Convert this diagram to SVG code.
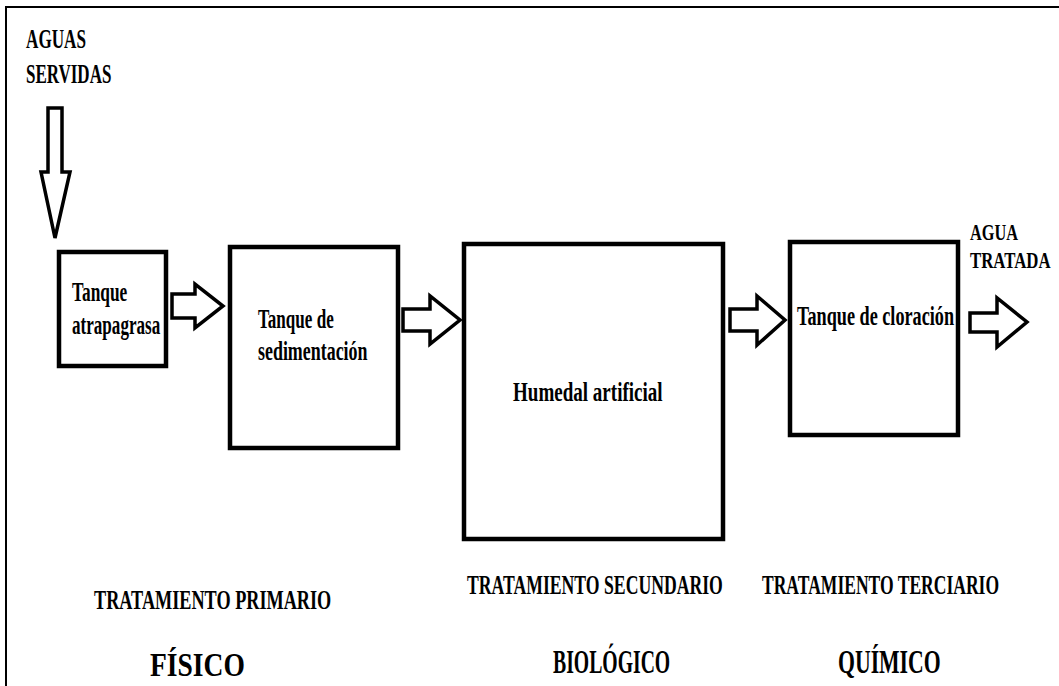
<svg xmlns="http://www.w3.org/2000/svg" width="1059" height="686" viewBox="0 0 1059 686">
<style>
.box{fill:#fff;stroke:#000;stroke-width:4.5}
.arr{fill:#fff;stroke:#000;stroke-width:3.5;stroke-linejoin:miter}
.t{font-size:28px}
.l{font-size:27px}
.o{font-size:24px}
.b{font-size:34px}
</style>
<rect width="1059" height="686" fill="#fff"/>
<path d="M6 686V7H1059" fill="none" stroke="#000" stroke-width="2"/>
<g font-family="Liberation Serif, Times New Roman, DejaVu Serif, serif" font-weight="bold" fill="#000">
<g id="label-in">
<text class="l" transform="translate(26,48) scale(0.635,1)">AGUAS</text>
<text class="l" transform="translate(26,83) scale(0.63,1)">SERVIDAS</text>
</g>
<g id="node-atrapagrasa">
<rect class="box" x="59" y="252" width="107" height="114"/>
<text class="t" transform="translate(72,301) scale(0.62,1)">Tanque</text>
<text class="t" transform="translate(72,334) scale(0.61,1)">atrapagrasa</text>
</g>
<g id="node-sedimentacion">
<rect class="box" x="230" y="247" width="168" height="201"/>
<text class="t" transform="translate(258,328) scale(0.61,1)">Tanque de</text>
<text class="t" transform="translate(258,360) scale(0.64,1)">sedimentación</text>
</g>
<g id="node-humedal">
<rect class="box" x="464" y="244" width="259" height="295"/>
<text class="t" transform="translate(513,401) scale(0.68,1)">Humedal artificial</text>
</g>
<g id="node-cloracion">
<rect class="box" x="790" y="242" width="168" height="193"/>
<text class="t" transform="translate(797,325) scale(0.65,1)">Tanque de cloración</text>
</g>
<g id="label-out">
<text class="o" transform="translate(970,240) scale(0.68,1)">AGUA</text>
<text class="o" transform="translate(970,268) scale(0.70,1)">TRATADA</text>
</g>
<g id="stage-labels">
<text class="l" transform="translate(94,609) scale(0.675,1)">TRATAMIENTO PRIMARIO</text>
<text class="l" transform="translate(467,594) scale(0.655,1)">TRATAMIENTO SECUNDARIO</text>
<text class="l" transform="translate(762,594) scale(0.65,1)">TRATAMIENTO TERCIARIO</text>
<text class="b" transform="translate(150,676) scale(0.81,1)">FÍSICO</text>
<text class="b" transform="translate(553,673) scale(0.58,1)">BIOLÓGICO</text>
<text class="b" transform="translate(838,673) scale(0.64,1)">QUÍMICO</text>
</g>
</g>
<g id="connectors">
<polygon class="arr" points="48,108 62,108 62,172 70,172 55,238 41,172 48,172"/>
<polygon class="arr" points="172,294 195,294 195,284 223,306 195,328 195,318 172,318"/>
<polygon class="arr" points="403,309 430,309 430,296 460,320 430,344 430,331 403,331"/>
<polygon class="arr" points="730,309 757,309 757,296 785,320 757,345 757,331 730,331"/>
<polygon class="arr" points="970,313 997,313 997,298 1027,322 997,347 997,332 970,332"/>
</g>
</svg>
